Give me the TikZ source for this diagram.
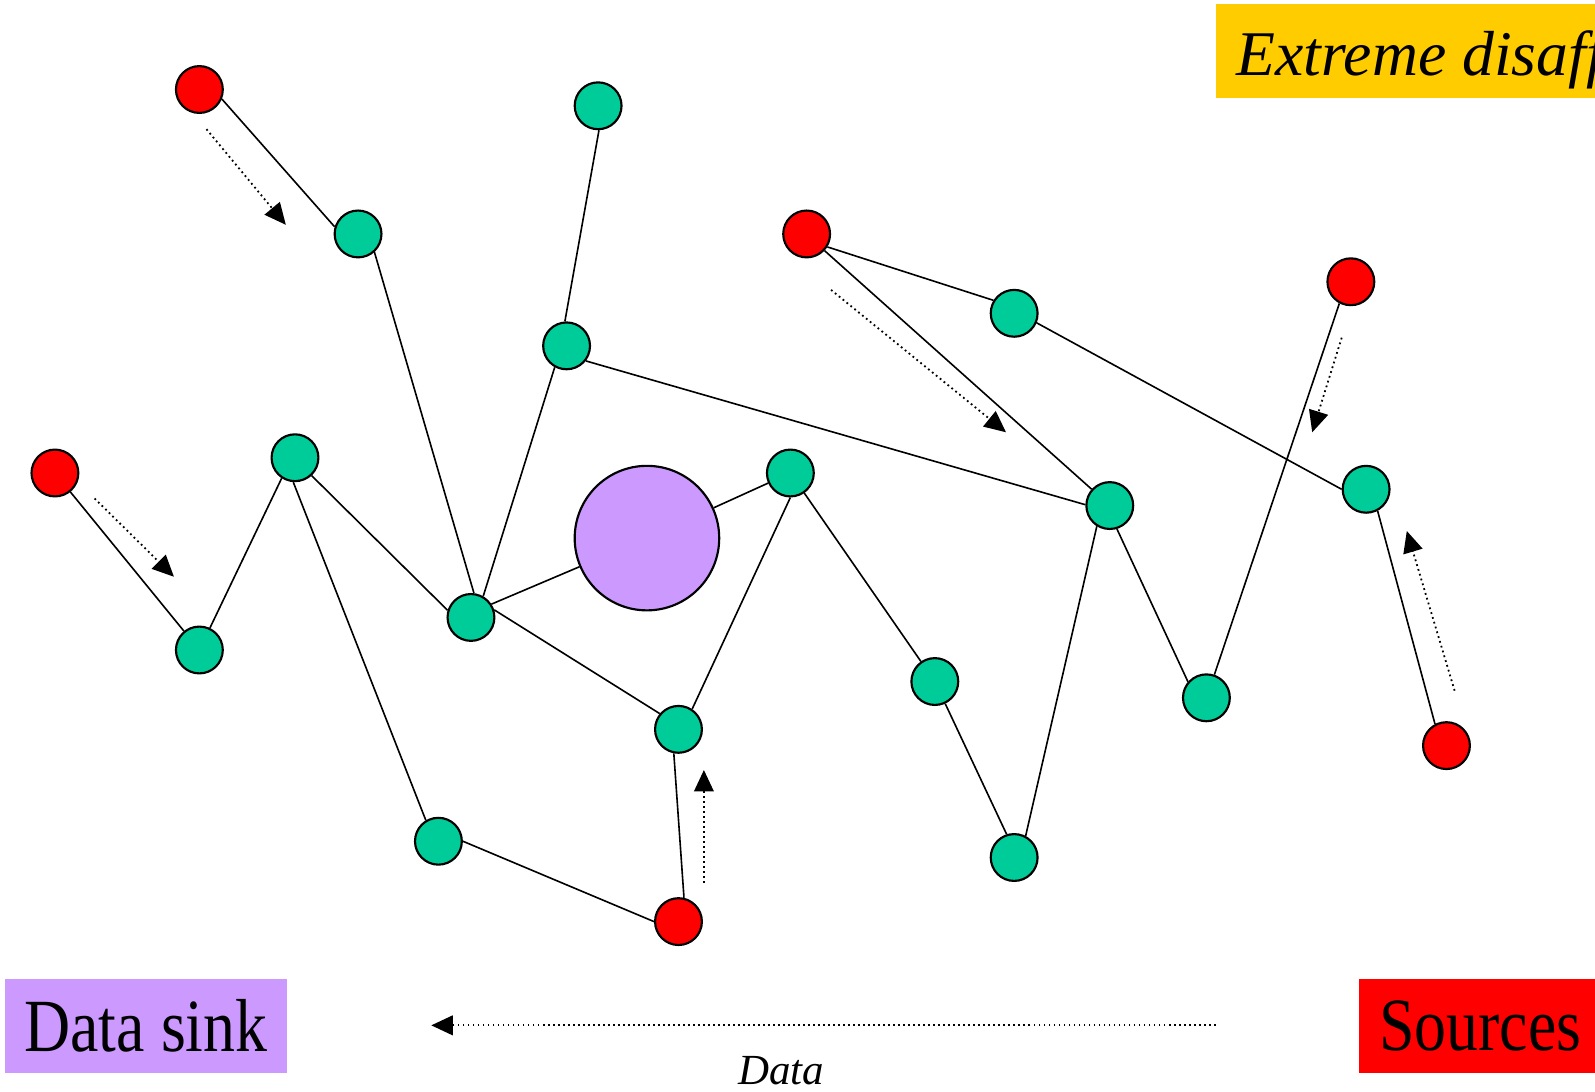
\documentclass[tikz,border=0pt]{standalone}
\usepackage{fontspec}
\setmainfont{Liberation Serif}
\usetikzlibrary{arrows.meta}
\definecolor{srcred}{RGB}{255,0,0}
\definecolor{relaygreen}{RGB}{0,204,153}
\definecolor{sinkviolet}{RGB}{204,153,255}
\definecolor{warnyellow}{RGB}{255,204,0}
\tikzset{
  src/.style={circle,draw,line width=0.6pt,fill=srcred,minimum size=0.46cm,inner sep=0pt},
  relay/.style={circle,draw,line width=0.6pt,fill=relaygreen,minimum size=0.46cm,inner sep=0pt},
  sink/.style={circle,draw,line width=0.6pt,fill=sinkviolet,minimum size=1.42cm,inner sep=0pt},
  link/.style={line width=0.45pt},
  flow/.style={line width=0.5pt,dash pattern=on 0.5pt off 0.9pt,-{Triangle[length=6pt,width=5.5pt]}},
  legend/.style={inner sep=0pt,minimum height=0.93cm}
}

\begin{document}
\begin{tikzpicture}[x=0.01cm,y=-0.01cm]
  \clip (0,0) rectangle (1568,1073);
  \useasboundingbox (0,0) rectangle (1568,1073);
  % sources, relays and the sink
  \foreach \n/\x/\y in {r1/196/88,r2/793/230,r3/1328/277,r4/54/465,r5/1422/733,r6/667/906}
    \node[src] (\n) at (\x,\y) {};
  \foreach \n/\x/\y in {a/352/230,b/588/104,c/557/340,d/997/308,e/290/450,f/777/465,g/1091/497,h/1343/481,
                        i/196/639,j/463/607,k/667/717,l/919/670,m/1186/686,n/431/827,o/997/843}
    \node[relay] (\n) at (\x,\y) {};
  \node[sink] (s) at (636,529) {};
  % links, end points on the rims
  \foreach \p/\q in {r1.-23/a.163,a.-48/j.83,b.-88/c.94,c.-119/j.60,c.-38/g.178,r2.-32/d.148,
                     r2.-43/g.138,d.-23/h.180,r3.-118/m.71,h.-62/r5.118,r4/i,i/e.-123,e.-47/j.163,
                     e.-94/n.121,j.33/s,s/f,j.18/k.140,f.-90/k.56,f/l,l/o.108,o.62/g.-122,
                     g.-73/m.139,n.0/r6.180,r6.77/k.-101}
    \draw[link] (\p)--(\q);
  % data flow hints
  \coordinate (f1s) at (203,127);  \coordinate (f1e) at (281,221);
  \coordinate (f2s) at (93,490);   \coordinate (f2e) at (171,567);
  \coordinate (f3s) at (817,285);  \coordinate (f3e) at (989,425);
  \coordinate (f4s) at (1319,332); \coordinate (f4e) at (1290,425);
  \coordinate (f5s) at (1430,679); \coordinate (f5e) at (1383,522);
  \coordinate (f6s) at (692,868);  \coordinate (f6e) at (692,757);
  \coordinate (f7s) at (1195,1008);\coordinate (f7e) at (424,1008);
  \foreach \k in {1,...,7}
    \draw[flow] (f\k s)--(f\k e);
  \node[font=\fontsize{12}{14}\selectfont\itshape] (datalbl) at (768,1053) {Data};
  % legend
  \node[fill=warnyellow,anchor=base west,inner xsep=0.2cm,inner ysep=0pt,text height=0.70cm,
        text depth=0.22cm,minimum width=3.9cm,align=left,
        font=\fontsize{17.8}{21}\selectfont\itshape] (warn) at (1195,74) {Extreme disaff};
  \node[legend,fill=sinkviolet,minimum width=2.77cm,font=\fontsize{21}{24}\selectfont]
    (sinklbl) at (143.5,1008.5) {\scalebox{0.85}[1]{Data sink}};
  \node[legend,fill=srcred,anchor=west,inner xsep=0.2cm,text width=2.2cm,align=left,
        font=\fontsize{21}{24}\selectfont] (srclbl) at (1335,1008.5) {\scalebox{0.85}[1]{Sources}};
\end{tikzpicture}
\end{document}
